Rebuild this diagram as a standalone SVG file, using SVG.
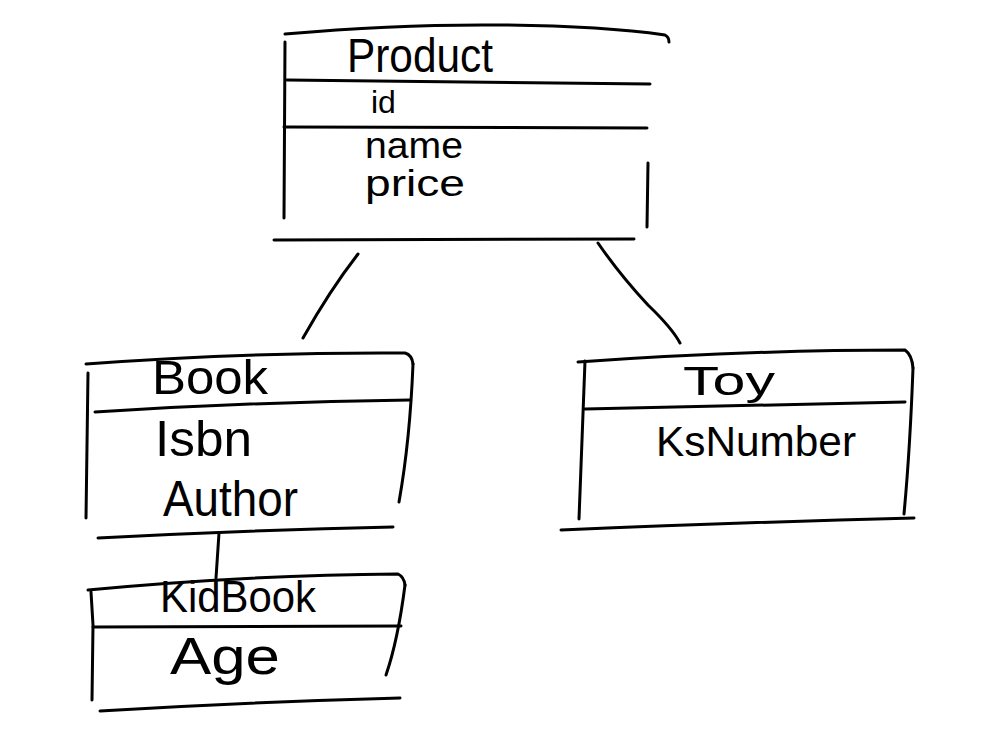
<svg xmlns="http://www.w3.org/2000/svg" width="983" height="735" viewBox="0 0 983 735">
<style>
.s{fill:none;stroke:#000;stroke-width:3;stroke-linecap:round;stroke-linejoin:round}
.t{font-family:"Liberation Sans","DejaVu Sans",sans-serif;fill:#000}
</style>
<rect width="983" height="735" fill="#fff"/>
<g id="connectors">
<path class="s" d="M358,254 Q330,290 303,338"/>
<path class="s" d="M598,243 Q620,275 648,305 Q672,328 680,343"/>
<path class="s" d="M219,533 L216,578"/>
</g>
<g id="product">
<path class="s" d="M285,34 Q400,24 500,25 Q600,26 665,35 Q669,37 669,42"/>
<path class="s" d="M285,42 L284,218"/>
<path class="s" d="M648,163 L647,227"/>
<path class="s" d="M287,80 L650,84"/>
<path class="s" d="M284,127 L647,128"/>
<path class="s" d="M274,240 L634,239"/>
<text class="t" x="347" y="72" font-size="48" textLength="146" lengthAdjust="spacingAndGlyphs">Product</text>
<text class="t" x="371" y="113" font-size="32">id</text>
<text class="t" x="365" y="158" font-size="36" textLength="98" lengthAdjust="spacingAndGlyphs">name</text>
<text class="t" x="365" y="196" font-size="36" textLength="100" lengthAdjust="spacingAndGlyphs">price</text>
</g>
<g id="book">
<path class="s" d="M86,364 Q250,352 405,353 Q412,355 413,364"/>
<path class="s" d="M88,373 L86,518"/>
<path class="s" d="M413,364 Q410,440 399,502"/>
<path class="s" d="M95,412 Q250,402 410,400"/>
<path class="s" d="M98,538 Q250,530 393,527"/>
<text class="t" x="152" y="394" font-size="48" textLength="116" lengthAdjust="spacingAndGlyphs">Book</text>
<text class="t" x="155" y="456" font-size="50" textLength="97" lengthAdjust="spacingAndGlyphs">Isbn</text>
<text class="t" x="163" y="516" font-size="50" textLength="135" lengthAdjust="spacingAndGlyphs">Author</text>
</g>
<g id="kidbook">
<path class="s" d="M88,590 Q250,575 398,574 Q404,577 405,585"/>
<path class="s" d="M91,592 L93,625 L92,700"/>
<path class="s" d="M405,585 Q398,640 386,675"/>
<path class="s" d="M93,627 L401,626"/>
<path class="s" d="M100,711 Q250,702 400,698"/>
<text class="t" x="160" y="612" font-size="44" textLength="156" lengthAdjust="spacingAndGlyphs">KidBook</text>
<text class="t" x="170" y="674" font-size="52" textLength="110" lengthAdjust="spacingAndGlyphs">Age</text>
</g>
<g id="toy">
<path class="s" d="M578,362 Q750,350 905,350 Q912,355 913,368"/>
<path class="s" d="M585,361 L582,440 L579,519"/>
<path class="s" d="M913,368 Q910,450 904,514"/>
<path class="s" d="M585,409 L905,402"/>
<path class="s" d="M561,530 Q750,522 914,518"/>
<text class="t" x="683" y="395" font-size="40" textLength="92" lengthAdjust="spacingAndGlyphs">Toy</text>
<text class="t" x="656" y="456" font-size="43" textLength="200" lengthAdjust="spacingAndGlyphs">KsNumber</text>
</g>
</svg>
